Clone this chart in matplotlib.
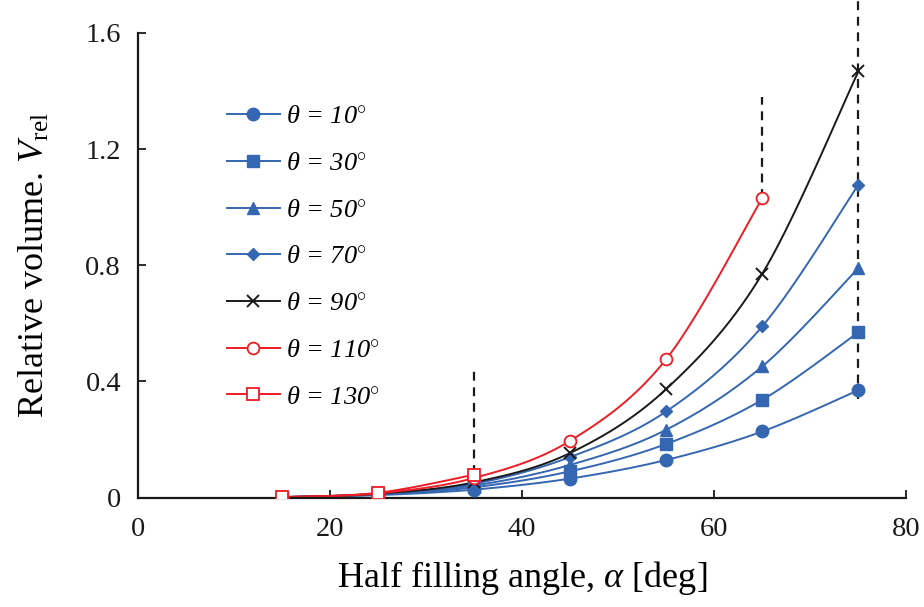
#!/usr/bin/python3

"""
Relative volume vs half filling angle for several contact angles.
"""

import matplotlib
matplotlib.use("Agg")
import matplotlib.pyplot as plt
import numpy as np

# data
alpha = [15, 25, 35, 45, 55, 65, 75]
thetas = [10, 30, 50, 70, 90, 110, 130]
v10 = [0.002, 0.009, 0.028, 0.066, 0.130, 0.228, 0.370]
v30 = [0.002, 0.011, 0.036, 0.091, 0.185, 0.337, 0.569]
v50 = [0.002, 0.012, 0.042, 0.113, 0.234, 0.452, 0.790]
v70 = [0.002, 0.013, 0.048, 0.140, 0.297, 0.590, 1.077]
v90 = [0.002, 0.014, 0.053, 0.154, 0.374, 0.771, 1.467]
v110 = [0.002, 0.015, 0.068, 0.196, 0.477, 1.031]
v130 = [0.002, 0.017, 0.079]
series = [v10, v30, v50, v70, v90, v110, v130]

# dashed limit lines: x, y from, y to
limits = [(35, 0.08, 0.45), (65, 1.03, 1.38), (75, 0.34, 1.71)]

BLUE = "#3566b2"
RED = "#ee1c25"
BLACK = "#1a1a1a"

plt.rcParams["font.family"] = "Liberation Serif"
plt.rcParams["mathtext.fontset"] = "custom"
plt.rcParams["mathtext.rm"] = "Liberation Serif"
plt.rcParams["mathtext.it"] = "Liberation Serif:italic"


def smooth(x, y, n=20):
    # Catmull-Rom style curve through the points, like Excel's smoothed lines
    x = np.asarray(x, float)
    y = np.asarray(y, float)
    if len(x) < 3:
        return x, y
    px = np.concatenate([[x[0]], x, [x[-1]]])
    py = np.concatenate([[y[0]], y, [y[-1]]])
    xs, ys = [], []
    for i in range(1, len(px) - 2):
        t = np.linspace(0, 1, n)
        b0x = px[i]
        b3x = px[i + 1]
        b1x = px[i] + (px[i + 1] - px[i - 1]) / 6
        b2x = px[i + 1] - (px[i + 2] - px[i]) / 6
        b0y = py[i]
        b3y = py[i + 1]
        b1y = py[i] + (py[i + 1] - py[i - 1]) / 6
        b2y = py[i + 1] - (py[i + 2] - py[i]) / 6
        xs.append((1-t)**3*b0x + 3*(1-t)**2*t*b1x + 3*(1-t)*t**2*b2x + t**3*b3x)
        ys.append((1-t)**3*b0y + 3*(1-t)**2*t*b1y + 3*(1-t)*t**2*b2y + t**3*b3y)
    return np.concatenate(xs), np.concatenate(ys)


styles = [
    dict(color=BLUE, marker="o", mfc=BLUE, ms=9),
    dict(color=BLUE, marker="s", mfc=BLUE, ms=8.5),
    dict(color=BLUE, marker="^", mfc=BLUE, ms=9),
    dict(color=BLUE, marker="D", mfc=BLUE, ms=6.5),
    dict(color=BLACK, marker="x", mfc=BLACK, ms=8, mew=1.4),
    dict(color=RED, marker="o", mfc="white", ms=8.5, mew=1.3),
    dict(color=RED, marker="s", mfc="white", ms=8, mew=1.3),
]

fig = plt.figure(figsize=(9.24, 6.07), dpi=100)
ax = fig.add_axes([0.149, 0.18, 0.832, 0.766])

for x, y0, y1 in limits:
    ax.plot([x, x], [y0, y1], color=BLACK, lw=1.6, ls=(0, (4, 3)),
            clip_on=False, zorder=1)

for th, vals, st in zip(thetas, series, styles):
    xs = alpha[:len(vals)]
    sx, sy = smooth(xs, vals)
    ax.plot(sx, sy, color=st["color"], lw=1.4, zorder=2)
    ax.plot(xs, vals, ls="none", marker=st["marker"], color=st["color"],
            mfc=st["mfc"], mec=st["color"], ms=st["ms"],
            mew=st.get("mew", 1.0), zorder=3)
    # legend proxy
    ax.plot([], [], color=st["color"], lw=1.4, marker=st["marker"],
            mfc=st["mfc"], mec=st["color"], ms=st["ms"],
            mew=st.get("mew", 1.0),
            label=r"$\theta$ = %d$^{\circ}$" % th)

ax.set_xlim(0, 80)
ax.set_ylim(0, 1.6)
ax.set_xticks([0, 20, 40, 60, 80])
ax.set_yticks([0, 0.4, 0.8, 1.2, 1.6])
ax.set_yticklabels(["0", "0.4", "0.8", "1.2", "1.6"])
ax.spines["top"].set_visible(False)
ax.spines["right"].set_visible(False)
for s in ("left", "bottom"):
    ax.spines[s].set_linewidth(1.6)
    ax.spines[s].set_color(BLACK)
ax.tick_params(direction="in", length=6, width=1.3, labelsize=20.5,
               colors=BLACK, pad=12)
ax.tick_params(axis="x", pad=14)

ax.set_xlabel(r"Half filling angle, $\alpha$ [deg]", fontsize=26, labelpad=12)
ax.set_ylabel(r"Relative volume. $V_{\mathrm{rel}}$", fontsize=26, labelpad=24)

leg = ax.legend(loc="upper left", bbox_to_anchor=(0.085, 0.896), frameon=False,
                handlelength=2.0, labelspacing=0.88, handletextpad=0.25,
                prop={"family": "Liberation Serif", "style": "italic",
                      "size": 19})

fig.savefig("out.png", dpi=100)
